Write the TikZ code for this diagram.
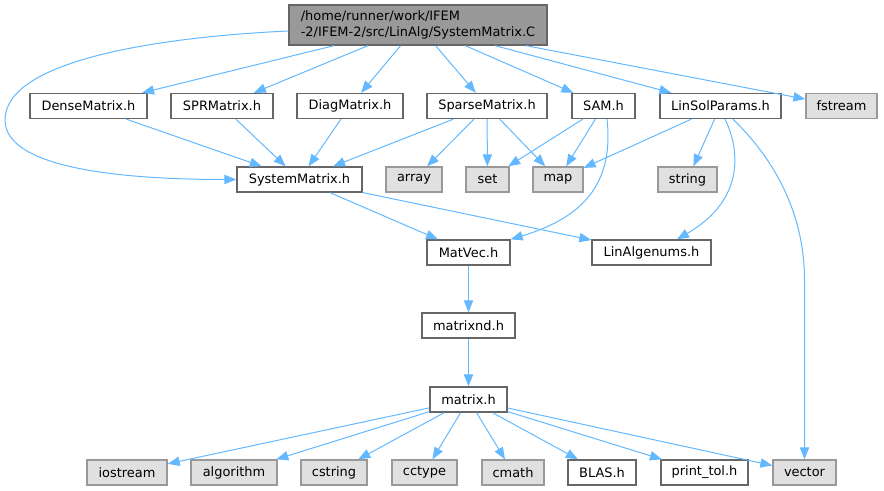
\documentclass[tikz,border=0pt]{standalone}
\usepackage{fontspec}
\setmainfont{DejaVu Sans}
\usetikzlibrary{arrows.meta}
\definecolor{edgeblue}{HTML}{63B8FF}
\definecolor{nodeborder}{HTML}{666666}
\definecolor{extborder}{HTML}{999999}
\definecolor{extfill}{HTML}{E0E0E0}
\definecolor{rootfill}{HTML}{999999}
\tikzset{
  base/.style={rectangle, inner sep=0pt, line width=1pt, font=\fontsize{9.7pt}{11.5pt}\selectfont, text=black},
  wbox/.style={base, draw=nodeborder, fill=white, minimum width=#1*0.75pt, minimum height=18.75pt},
  gbox/.style={base, draw=extborder, fill=extfill, minimum width=#1*0.75pt, minimum height=18.75pt},
  rootbox/.style={base, draw=nodeborder, fill=rootfill, minimum width=#1*0.75pt, minimum height=30pt, align=left},
  dep/.style={draw=edgeblue, line width=0.75pt, -{Triangle[length=9pt,width=7pt]}}
}
\begin{document}
\begin{tikzpicture}[x=0.75pt, y=-0.75pt]
\useasboundingbox (0,0) rectangle (884,491);
% root
\node[rootbox=258] (root) at (418,25) {/home/runner/work/IFEM\\-2/IFEM-2/src/LinAlg/SystemMatrix.C};
% row 1
\node[wbox=117] (dense) at (88.5,106) {DenseMatrix.h};
\node[wbox=102] (spr) at (222,106) {SPRMatrix.h};
\node[wbox=106] (diag) at (350,106) {DiagMatrix.h};
\node[wbox=120] (sparse) at (487,106) {SparseMatrix.h};
\node[wbox=63] (sam) at (603.5,106) {SAM.h};
\node[wbox=121] (linsol) at (720.5,106) {LinSolParams.h};
\node[gbox=71] (fstream) at (841.5,106) {fstream};
% row 2
\node[wbox=125] (sysmat) at (299.5,179.5) {SystemMatrix.h};
\node[gbox=56] (array) at (414,179.5) {array};
\node[gbox=43] (set) at (487.5,179.5) {set};
\node[gbox=50] (map) at (558,179.5) {map};
\node[gbox=59] (string) at (687.5,179.5) {string};
% row 3
\node[wbox=83] (matvec) at (468.5,252.5) {MatVec.h};
\node[wbox=119] (linalg) at (651.5,252.5) {LinAlgenums.h};
% row 4
\node[wbox=93] (matrixnd) at (468.5,325.5) {matrixnd.h};
% row 5
\node[wbox=77] (matrix) at (468.5,399.5) {matrix.h};
% row 6
\node[gbox=80] (iostream) at (127,472.5) {iostream};
\node[gbox=86] (algorithm) at (234,472.5) {algorithm};
\node[gbox=66] (cstring) at (334,472.5) {cstring};
\node[gbox=65] (cctype) at (424.5,472.5) {cctype};
\node[gbox=62] (cmath) at (513,472.5) {cmath};
\node[wbox=68] (blas) at (602,472.5) {BLAS.h};
\node[wbox=87] (printtol) at (704.5,472.5) {print\_tol.h};
\node[gbox=63] (vector) at (804.5,472.5) {vector};

% edges from root
\draw[dep] (root) -- (dense);
\draw[dep] (root) -- (spr);
\draw[dep] (root) -- (diag);
\draw[dep] (root) -- (sparse);
\draw[dep] (root) -- (sam);
\draw[dep] (root) -- (linsol);
\draw[dep] (root) -- (fstream);
\draw[dep] ([yshift=-4.5pt]root.west) .. controls (160,37) and (5,60) .. (5,120)
  .. controls (5,172) and (140,179.5) .. (sysmat.west);
% row 1 edges
\draw[dep] (dense) -- (sysmat);
\draw[dep] (spr) -- (sysmat);
\draw[dep] (diag) -- (sysmat);
\draw[dep] (sparse) -- (sysmat);
\draw[dep] (sparse) -- (array);
\draw[dep] (sparse) -- (set);
\draw[dep] (sparse) -- (map);
\draw[dep] (sam) -- (set);
\draw[dep] (sam) -- (map);
\draw[dep] ([xshift=2.6pt]sam.south) .. controls (615,190) and (575,220) .. (matvec.north east);
\draw[dep] (linsol) -- (map);
\draw[dep] (linsol) -- (string);
\draw[dep] ([xshift=3.4pt]linsol.south) .. controls (740,150) and (745,200) .. ([xshift=19.1pt]linalg.north);
\draw[dep] ([xshift=9.4pt]linsol.south) .. controls (780,165) and (804.5,220) .. (804.5,280) -- (vector.north);
% row 2 edges
\draw[dep] (sysmat) -- (matvec);
\draw[dep] (sysmat) -- (linalg);
% chain
\draw[dep] (matvec) -- (matrixnd);
\draw[dep] (matrixnd) -- (matrix);
% matrix.h edges
\draw[dep] (matrix) -- (iostream);
\draw[dep] (matrix) -- (algorithm);
\draw[dep] (matrix) -- (cstring);
\draw[dep] (matrix) -- (cctype);
\draw[dep] (matrix) -- (cmath);
\draw[dep] (matrix) -- (blas);
\draw[dep] (matrix) -- (printtol);
\draw[dep] (matrix) -- (vector);
\end{tikzpicture}
\end{document}
